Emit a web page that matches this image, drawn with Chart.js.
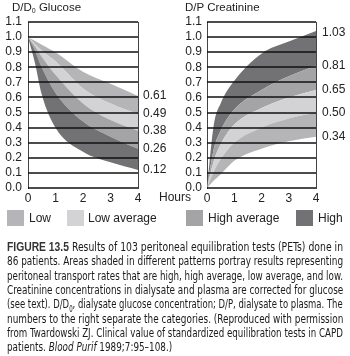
<!DOCTYPE html>
<html>
<head>
<meta charset="utf-8">
<script src="https://cdn.jsdelivr.net/npm/chart.js"></script>
<style>
  body { margin: 0; background: #fff; width: 350px; height: 356px; position: relative; overflow: hidden;
         font-family: "Liberation Sans", Arial, sans-serif; color: #222; }
  canvas { position: absolute; top: 0; }
  .title { position: absolute; top: 0px; font-size: 11.5px; line-height: 14px; }
  .title sub { font-size: 7px; vertical-align: -2px; }
  .lab { position: absolute; font-size: 12px; line-height: 14px; white-space: nowrap; }
  .sw { position: absolute; top: 210px; width: 17px; height: 16px; }
  .cap { position: absolute; left: 7px; font-family: "Liberation Sans Narrow", "DejaVu Sans Condensed", Roboto, sans-serif;
         font-size: 12.5px; line-height: 14px; white-space: nowrap; transform-origin: 0 0; color: #1a1a1a; }
  .cap b { font-family: "Liberation Sans", Arial, sans-serif; font-weight: bold; color: #333; }
</style>
</head>
<body>
<canvas id="glu" width="175" height="210" style="left:0"></canvas>
<canvas id="cre" width="175" height="210" style="left:175px"></canvas>

<div class="title" style="left:12px">D/D<sub>0</sub> Glucose</div>
<div class="title" style="left:185px">D/P Creatinine</div>
<div class="lab" style="left:159px;top:190px">Hours</div>

<div class="sw" style="left:7px;background:#b5b5b8"></div>
<div class="lab" style="left:29px;top:211px">Low</div>
<div class="sw" style="left:67px;background:#d3d3d5"></div>
<div class="lab" style="left:88px;top:211px">Low average</div>
<div class="sw" style="left:186px;background:#a4a4a7"></div>
<div class="lab" style="left:208px;top:211px">High average</div>
<div class="sw" style="left:296px;background:#727274"></div>
<div class="lab" style="left:318px;top:211px">High</div>

<div class="cap"><b>FIGURE 13.5</b> Results of 103 peritoneal equilibration tests (PETs) done in</div>
<div class="cap">86 patients. Areas shaded in different patterns portray results representing</div>
<div class="cap">peritoneal transport rates that are high, high average, low average, and low.</div>
<div class="cap">Creatinine concentrations in dialysate and plasma are corrected for glucose</div>
<div class="cap">(see text). D/D<sub style="font-size:8px">0</sub>, dialysate glucose concentration; D/P, dialysate to plasma. The</div>
<div class="cap">numbers to the right separate the categories. (Reproduced with permission</div>
<div class="cap">from Twardowski ZJ. Clinical value of standardized equilibration tests in CAPD</div>
<div class="cap">patients. <i>Blood Purif</i> 1989;7:95–108.)</div>

<script>
// --- data ---
const hours = [0, 0.25, 0.5, 1, 2, 3, 4];
const xTicks = [0, 1, 2, 3, 4];
const yTicks = [0, 0.1, 0.2, 0.3, 0.4, 0.5, 0.6, 0.7, 0.8, 0.9, 1.0, 1.1];

// glucose D/D0 boundaries, bottom to top
const gluB1 = [1.0, 0.83, 0.62, 0.40, 0.24, 0.17, 0.12];
const gluB2 = [1.0, 0.91, 0.80, 0.63, 0.44, 0.34, 0.26];
const gluB3 = [1.0, 0.94, 0.87, 0.75, 0.56, 0.45, 0.38];
const gluB4 = [1.0, 0.955, 0.91, 0.84, 0.66, 0.56, 0.49];
const gluB5 = [1.0, 0.975, 0.95, 0.90, 0.77, 0.69, 0.61];
const gluRight = [0.12, 0.26, 0.38, 0.49, 0.61];

// creatinine D/P boundaries, bottom to top
const creB1 = [0, 0.05, 0.09, 0.18, 0.26, 0.31, 0.34];
const creB2 = [0, 0.11, 0.19, 0.30, 0.40, 0.46, 0.50];
const creB3 = [0, 0.18, 0.29, 0.42, 0.53, 0.60, 0.65];
const creB4 = [0, 0.26, 0.38, 0.52, 0.65, 0.74, 0.81];
const creB5 = [0, 0.42, 0.56, 0.71, 0.89, 0.97, 1.04];
const creRight = [0.34, 0.50, 0.65, 0.81, 1.03];

const colHigh = "#727274", colHighAvg = "#a4a4a7", colLowAvg = "#d3d3d5", colLow = "#b5b5b8";
const tickFont = { family: "'Liberation Sans', Arial, sans-serif", size: 12 };

// horizontal rules drawn over the shaded bands
const gridOnTop = {
  id: "gridOnTop",
  afterDatasetsDraw(chart) {
    const { ctx, chartArea, scales } = chart;
    ctx.save();
    ctx.strokeStyle = "#111";
    ctx.lineWidth = 1.6;
    yTicks.forEach((v) => {
      const y = Math.round(scales.y.getPixelForValue(v));
      ctx.beginPath();
      ctx.moveTo(chartArea.left, y);
      ctx.lineTo(chartArea.right, y);
      ctx.stroke();
    });
    ctx.restore();
  },
};

function band(data, color) {
  return {
    data: hours.map((h, i) => ({ x: h, y: data[i] })),
    borderWidth: 0,
    pointRadius: 0,
    cubicInterpolationMode: "monotone",
    fill: color ? "-1" : false,
    backgroundColor: color || "transparent",
  };
}

function makeChart(id, sets, rightTicks, leftW, rightW, rightPad, leftPad) {
  return new Chart(document.getElementById(id), {
    type: "line",
    data: { datasets: sets },
    plugins: [gridOnTop],
    options: {
      responsive: false,
      animation: false,
      devicePixelRatio: 1,
      layout: { padding: { top: 22, left: 0, right: 0, bottom: 0 } },
      plugins: { legend: { display: false }, tooltip: { enabled: false } },
      scales: {
        x: {
          type: "linear", min: 0, max: 4,
          afterBuildTicks: (a) => { a.ticks = xTicks.map(v => ({ value: v })); },
          afterFit: (a) => { a.height = 22; },
          grid: { display: false, drawTicks: false },
          border: { display: false },
          ticks: { padding: 3, autoSkip: false, maxRotation: 0, color: "#222", font: tickFont },
        },
        y: {
          min: 0, max: 1.1,
          afterBuildTicks: (a) => { a.ticks = yTicks.map(v => ({ value: v })); },
          afterFit: (a) => { a.width = leftW; },
          grid: { display: false, drawTicks: false },
          border: { display: true, color: "#444", width: 1 },
          ticks: { padding: leftPad, autoSkip: false, color: "#222", font: tickFont, callback: (v) => v.toFixed(1) },
        },
        y2: {
          position: "right", min: 0, max: 1.1,
          afterBuildTicks: (a) => { a.ticks = rightTicks.map(v => ({ value: v })); },
          afterFit: (a) => { a.width = rightW; },
          grid: { display: false, drawTicks: false },
          border: { display: true, color: "#444", width: 1 },
          ticks: { padding: rightPad, autoSkip: false, color: "#222", font: tickFont, callback: (v) => v.toFixed(2) },
        },
      },
    },
  });
}

makeChart("glu", [
  band(gluB1, null),
  band(gluB2, colHigh),
  band(gluB3, colHighAvg),
  band(gluB4, colLowAvg),
  band(gluB5, colLow),
], gluRight, 28, 37, 5, 6);

makeChart("cre", [
  band(creB1, null),
  band(creB2, colLow),
  band(creB3, colLowAvg),
  band(creB4, colHighAvg),
  band(creB5, colHigh),
], creRight, 32, 34, 6, 5);

// caption lines: stack and stretch to the text block width
const caps = document.querySelectorAll(".cap");
let sum = 0, n = 0;
caps.forEach((el, i) => {
  el.style.top = (240 + i * 14.3) + "px";
  if (i < caps.length - 1) {
    const s = 336 / el.scrollWidth;
    el.style.transform = "scaleX(" + s + ")";
    sum += s; n++;
  }
});
caps[caps.length - 1].style.transform = "scaleX(" + (sum / n) + ")";
</script>
</body>
</html>
